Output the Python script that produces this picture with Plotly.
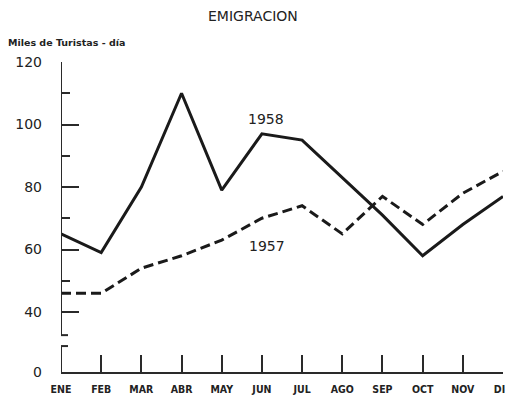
import plotly.graph_objects as go

months = ["ENE", "FEB", "MAR", "ABR", "MAY", "JUN", "JUL", "AGO", "SEP", "OCT", "NOV", "DIC"]
y1958 = [65, 59, 80, 110, 79, 97, 95, 83, 71, 58, 68, 77]
y1957 = [46, 46, 54, 58, 63, 70, 74, 65, 77, 68, 78, 85]
ytick_vals = [40, 60, 80, 100, 120]
ytick_text = ["40", "60", "80", "100", "120"]
yminor_vals = [50, 70, 90, 110]

Y_BOTTOM = 20.8     # where the (broken) axis shows "0"
BREAK_TOP = 32.6
BREAK_BOT = 29.1

x = list(range(len(months)))
font_main = "DejaVu Sans"
font_narrow = "DejaVu Sans Condensed, Liberation Sans Narrow, sans-serif"
INK = "#222"
AX = "#2a2a2a"

fig = go.Figure()
fig.add_trace(go.Scatter(x=x, y=y1958, mode="lines", line=dict(color="#1a1a1a", width=3),
                         cliponaxis=False, showlegend=False))
fig.add_trace(go.Scatter(x=x, y=y1957, mode="lines",
                         line=dict(color="#1a1a1a", width=3, dash="10px,5px"),
                         cliponaxis=False, showlegend=False))

shapes = [
    dict(type="line", xref="x", yref="y", x0=0, x1=0, y0=BREAK_TOP, y1=120,
         line=dict(color=AX, width=2)),
    dict(type="line", xref="x", yref="y", x0=0, x1=0, y0=Y_BOTTOM, y1=BREAK_BOT,
         line=dict(color=AX, width=2)),
    dict(type="line", xref="x", yref="y", xsizemode="pixel", xanchor=0, x0=-7, x1=7,
         y0=BREAK_TOP, y1=BREAK_TOP, line=dict(color=AX, width=2)),
    dict(type="line", xref="x", yref="y", xsizemode="pixel", xanchor=0, x0=-7, x1=7,
         y0=BREAK_BOT, y1=BREAK_BOT, line=dict(color=AX, width=2)),
]

# the page body adds an 8px margin, so the figure is 8px smaller than the window
fig.update_layout(
    width=505, height=396,
    margin=dict(l=53, r=10, t=54, b=32, autoexpand=False),
    paper_bgcolor="white", plot_bgcolor="white",
    shapes=shapes,
    xaxis=dict(range=[0, 11], tickmode="array", tickvals=x, ticktext=months,
               automargin=False,
               showgrid=False, zeroline=False, showline=True, linecolor=AX, linewidth=2,
               ticks="inside", ticklen=17, tickwidth=2, tickcolor=AX,
               ticklabelstandoff=6,
               tickfont=dict(family=font_narrow, size=10.5, color=INK, weight="bold")),
    yaxis=dict(range=[Y_BOTTOM, 120], tickmode="array",
               tickvals=[Y_BOTTOM] + ytick_vals, ticktext=["0"] + ytick_text,
               automargin=False,
               showgrid=False, zeroline=False, showline=False,
               ticks="inside", ticklen=18, tickwidth=2, tickcolor=AX,
               ticklabelstandoff=18,
               minor=dict(tickvals=yminor_vals, ticks="inside", ticklen=9, tickwidth=2,
                          tickcolor=AX, showgrid=False),
               tickfont=dict(family=font_main, size=14, color=INK)),
    annotations=[
        dict(text="EMIGRACION", xref="paper", yref="paper",
             x=(253 - 61) / 442, y=1 + (62 - 16) / 310, xanchor="center", yanchor="middle",
             showarrow=False, font=dict(family=font_main, size=14, color=INK)),
        dict(text="<b>Miles de Turistas - día</b>", xref="paper", yref="paper",
             x=(6 - 61) / 442, y=1 + (62 - 42) / 310, xanchor="left", yanchor="middle",
             showarrow=False, font=dict(family=font_main, size=9.5, color=INK)),
        dict(text="1958", xref="x", yref="y", x=5.1, y=101.9, showarrow=False,
             font=dict(family=font_main, size=14, color=INK)),
        dict(text="1957", xref="x", yref="y", x=5.13, y=61.1, showarrow=False,
             font=dict(family=font_main, size=14, color=INK)),
    ],
)

fig.write_html("out.html")
